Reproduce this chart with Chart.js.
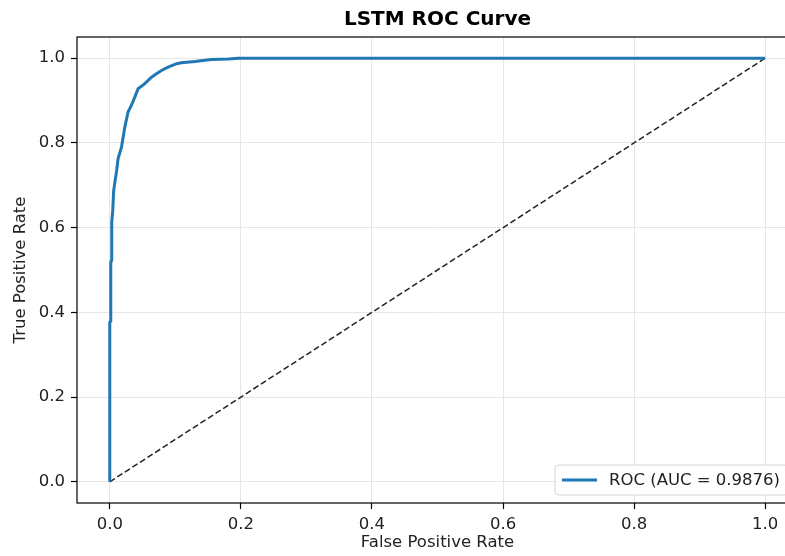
<!DOCTYPE html>
<html>
<head>
<meta charset="utf-8">
<title>LSTM ROC Curve</title>
<script src="https://cdn.jsdelivr.net/npm/chart.js@4.4.1/dist/chart.umd.min.js"></script>
<style>
    html, body { margin: 0; padding: 0; background: #fff; overflow: hidden; }
    #wrap { width: 812px; height: 556px; }
</style>
</head>
<body>
<div id="wrap"><canvas id="roc-chart" width="812" height="556"></canvas></div>
<script>
// ROC curve
const fprValues = [0, 0, 0.0015, 0.0015, 0.003, 0.003, 0.0045, 0.006, 0.0076, 0.0105, 0.0127, 0.0179,
    0.0229, 0.0279, 0.0331, 0.0382, 0.0432, 0.0534, 0.0637, 0.0713, 0.0789, 0.089, 0.102, 0.109,
    0.130, 0.145, 0.155, 0.181, 0.196, 0.30, 0.50, 0.75, 1.0];
const tprValues = [0, 0.377, 0.379, 0.518, 0.523, 0.613, 0.640, 0.688, 0.705, 0.735, 0.763, 0.790,
    0.837, 0.873, 0.889, 0.908, 0.928, 0.940, 0.955, 0.963, 0.971, 0.979, 0.987, 0.989,
    0.992, 0.995, 0.997, 0.998, 1.0, 1.0, 1.0, 1.0, 1.0];

// chance line
const diagX = [0, 1];
const diagY = [0, 1];

const xTicks = [0, 0.2, 0.4, 0.6, 0.8, 1.0];
const yTicks = [0, 0.2, 0.4, 0.6, 0.8, 1.0];

const rocLabel = 'ROC (AUC = 0.9876)';
const chartTitle = 'LSTM ROC Curve';

const FONT = "'DejaVu Sans', sans-serif";
Chart.defaults.font.family = FONT;
Chart.defaults.color = '#222';

// frame, legend box and title drawn like matplotlib does
const decorations = {
    id: 'decorations',
    afterDatasetsDraw(chart) {
        const { ctx, chartArea: a } = chart;
        ctx.save();
        ctx.strokeStyle = '#000';
        ctx.lineWidth = 1.2;
        ctx.strokeRect(a.left, a.top, a.right - a.left, a.bottom - a.top);
        ctx.restore();
    },
    afterDraw(chart) {
        const { ctx, chartArea: a } = chart;
        const ds = chart.data.datasets[0];

        ctx.save();
        // legend
        ctx.font = '16.5px ' + FONT;
        const textW = ctx.measureText(ds.label).width;
        const right = a.right - 10;
        const left = right - (7 + 35 + 12 + textW + 8);
        const top = a.bottom - 38;
        const bottom = a.bottom - 8;
        ctx.beginPath();
        ctx.roundRect(left, top, right - left, bottom - top, 4);
        ctx.fillStyle = 'rgba(255,255,255,0.85)';
        ctx.fill();
        ctx.strokeStyle = '#d4d4d4';
        ctx.lineWidth = 1;
        ctx.stroke();

        const midY = (top + bottom) / 2;
        ctx.beginPath();
        ctx.moveTo(left + 7, midY);
        ctx.lineTo(left + 42, midY);
        ctx.strokeStyle = ds.borderColor;
        ctx.lineWidth = 3;
        ctx.stroke();

        ctx.fillStyle = '#222';
        ctx.textBaseline = 'middle';
        ctx.textAlign = 'left';
        ctx.fillText(ds.label, left + 54, midY + 1);

        // title
        ctx.font = 'bold 20px ' + FONT;
        ctx.fillStyle = '#000';
        ctx.textAlign = 'center';
        ctx.fillText(chartTitle, (a.left + a.right) / 2, 20);
        ctx.restore();
    }
};

function axisOptions(ticks, titleText, titlePadding) {
    return {
        type: 'linear',
        min: -0.05,
        max: 1.05,
        afterBuildTicks: (scale) => {
            scale.ticks = ticks.map(v => ({ value: v }));
        },
        ticks: {
            callback: (v) => Number(v).toFixed(1),
            font: { size: 16.5 },
            color: '#222',
            padding: 6
        },
        grid: {
            color: '#e6e6e6',
            lineWidth: 1,
            tickColor: '#000',
            tickLength: 6,
            tickWidth: 1.2
        },
        border: { display: false },
        title: {
            display: true,
            text: titleText,
            font: { size: 16.5 },
            color: '#222',
            padding: titlePadding
        }
    };
}

document.addEventListener('DOMContentLoaded', () => {
    const ctx = document.getElementById('roc-chart').getContext('2d');

    const xAxis = axisOptions(xTicks, 'False Positive Rate', { top: 0, bottom: 3 });
    xAxis.afterFit = (scale) => { scale.height = 53; };
    const yAxis = axisOptions(yTicks, 'True Positive Rate', { top: 11, bottom: 0 });
    yAxis.afterFit = (scale) => { scale.width = 77; };

    new Chart(ctx, {
        type: 'scatter',
        data: {
            datasets: [{
                label: rocLabel,
                data: fprValues.map((x, i) => ({ x: x, y: tprValues[i] })),
                showLine: true,
                borderColor: '#1f77b4',
                borderWidth: 3,
                pointRadius: 0,
                tension: 0,
                order: 0
            }, {
                label: 'chance',
                data: diagX.map((x, i) => ({ x: x, y: diagY[i] })),
                showLine: true,
                borderColor: '#222',
                borderWidth: 1.5,
                borderDash: [6, 3],
                pointRadius: 0,
                order: 1
            }]
        },
        options: {
            responsive: false,
            animation: false,
            layout: { padding: { left: 0, right: 14, top: 37, bottom: 0 } },
            scales: { x: xAxis, y: yAxis },
            plugins: {
                legend: { display: false },
                title: { display: false },
                tooltip: { enabled: false }
            }
        },
        plugins: [decorations]
    });
});
</script>
</body>
</html>
